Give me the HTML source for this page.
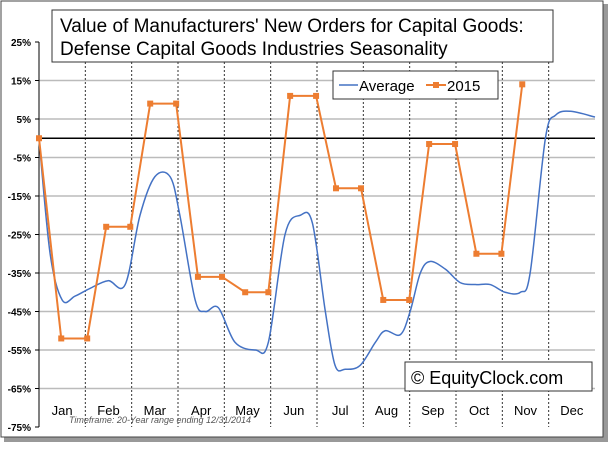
<!DOCTYPE html>
<html><head><meta charset="utf-8"><style>
body{margin:0;background:#fff;width:613px;height:447px;overflow:hidden;font-family:"Liberation Sans",sans-serif}
</style></head><body>
<svg width="613" height="447" xmlns="http://www.w3.org/2000/svg">
<rect x="4" y="4" width="604" height="438" fill="#999"/>
<rect x="1" y="1" width="602" height="436" fill="#fff" stroke="#444" stroke-width="1"/>
<g id="grid"></g>
<g id="series"></g>
<rect x="52" y="10" width="501" height="52" fill="#fff" stroke="#333"/>
<text x="60" y="32" font-size="19" fill="#000">Value of Manufacturers' New Orders for Capital Goods:</text>
<text x="60" y="55" font-size="19" fill="#000">Defense Capital Goods Industries Seasonality</text>
<g>
<rect x="333" y="71" width="165" height="28" fill="#fff" stroke="#333"/>
<line x1="339" y1="85" x2="358" y2="85" stroke="#4472C4" stroke-width="1.5"/>
<text x="359" y="91" font-size="15">Average</text>
<line x1="426" y1="85" x2="446" y2="85" stroke="#ED7D31" stroke-width="2"/>
<rect x="433" y="82" width="6" height="6" fill="#ED7D31"/>
<text x="447" y="91" font-size="15">2015</text>
</g>
<text x="69" y="423" font-size="9" font-style="italic" fill="#555">Timeframe: 20-Year range ending 12/31/2014</text>
<rect x="405" y="362" width="187" height="29" fill="#fff" stroke="#333"/>
<text x="411" y="384" font-size="18">© EquityClock.com</text>
</svg>
<script>
const months=["Jan","Feb","Mar","Apr","May","Jun","Jul","Aug","Sep","Oct","Nov","Dec"];
const yTicks=[25,15,5,-5,-15,-25,-35,-45,-55,-65,-75];
const yLabels=["25%","15%","5%","-5%","-15%","-25%","-35%","-45%","-55%","-65%","-75%"];
const s2015X=[0,0.48,1.04,1.45,1.97,2.4,2.96,3.43,3.95,4.45,4.95,5.42,5.98,6.41,6.95,7.43,7.99,8.42,8.98,9.44,9.98,10.43];
const s2015Y=[0,-52,-52,-23,-23,9,9,-36,-36,-40,-40,11,11,-13,-13,-42,-42,-1.5,-1.5,-30,-30,14];
const avgX=[0,0.24,0.5,0.78,1.1,1.49,1.86,2.18,2.5,2.83,3.04,3.37,3.59,3.87,4.23,4.67,4.95,5.31,5.64,5.9,6.18,6.39,6.61,6.93,7.26,7.47,7.8,8.01,8.23,8.44,8.77,9.09,9.42,9.74,10.06,10.39,10.6,10.93,11.15,11.47,12];
const avgY=[0,-30,-42,-41,-39,-37,-38,-20,-10,-10,-20,-42,-45,-44,-53,-55,-53,-25,-20,-22,-45,-59,-60,-59,-53,-50,-51,-45,-35,-32,-34,-37.5,-38,-38,-40,-40,-35,0,6,7,5.5];
const NS="http://www.w3.org/2000/svg";
const L=39,R=595,T=42,B=427;
const xs=m=>L+m*(R-L)/12;
const ys=v=>T+(25-v)*(B-T)/100;
const grid=document.getElementById('grid'),ser=document.getElementById('series');
function mk(tag,at,par){const e=document.createElementNS(NS,tag);for(const k in at)e.setAttribute(k,at[k]);par.appendChild(e);return e;}
yTicks.forEach((v,i)=>{
  if(i>0&&i<yTicks.length-1){const g=mk('line',{x1:L,x2:R,y1:ys(v),y2:ys(v),stroke:'#bbb','stroke-width':1.5},grid);
  
  }
  const t=mk('text',{x:31,y:ys(v)+4,'font-size':10,'font-weight':'bold','text-anchor':'end'},grid);
  t.textContent=yLabels[i];
  
  
  mk('line',{x1:L-4,x2:L,y1:ys(v),y2:ys(v),stroke:'#000'},grid);
});
months.forEach((m,i)=>{
  if(i>0){const d=mk('line',{x1:xs(i),x2:xs(i),y1:T,y2:B,stroke:'#333','stroke-dasharray':'2,2'},grid);
  
  }
  const t=mk('text',{x:xs(i+0.5),y:415,'font-size':13,'text-anchor':'middle'},grid);
  t.textContent=m;
  
  
});
const ya=mk('line',{x1:L,x2:L,y1:T,y2:B,stroke:'#000'},grid);


const za=mk('line',{x1:L,x2:R,y1:ys(0),y2:ys(0),stroke:'#000','stroke-width':1.5},grid);


// average smooth
const P=avgX.map((x,i)=>[xs(x),ys(avgY[i])]);
let d='M'+P[0][0]+','+P[0][1];
for(let i=0;i<P.length-1;i++){const p0=P[Math.max(0,i-1)],p1=P[i],p2=P[i+1],p3=P[Math.min(P.length-1,i+2)];
d+=' C'+(p1[0]+(p2[0]-p0[0])/6)+','+(p1[1]+(p2[1]-p0[1])/6)+' '+(p2[0]-(p3[0]-p1[0])/6)+','+(p2[1]-(p3[1]-p1[1])/6)+' '+p2[0]+','+p2[1];}
const av=mk('path',{d:d,fill:'none',stroke:'#4472C4','stroke-width':1.5},ser);


const pl=mk('polyline',{points:s2015X.map((x,i)=>xs(x)+','+ys(s2015Y[i])).join(' '),fill:'none',stroke:'#ED7D31','stroke-width':2},ser);


s2015X.forEach((x,i)=>{const r=mk('rect',{x:xs(x)-3,y:ys(s2015Y[i])-3,width:6,height:6,fill:'#ED7D31'},ser);

});
</script>
</body></html>
